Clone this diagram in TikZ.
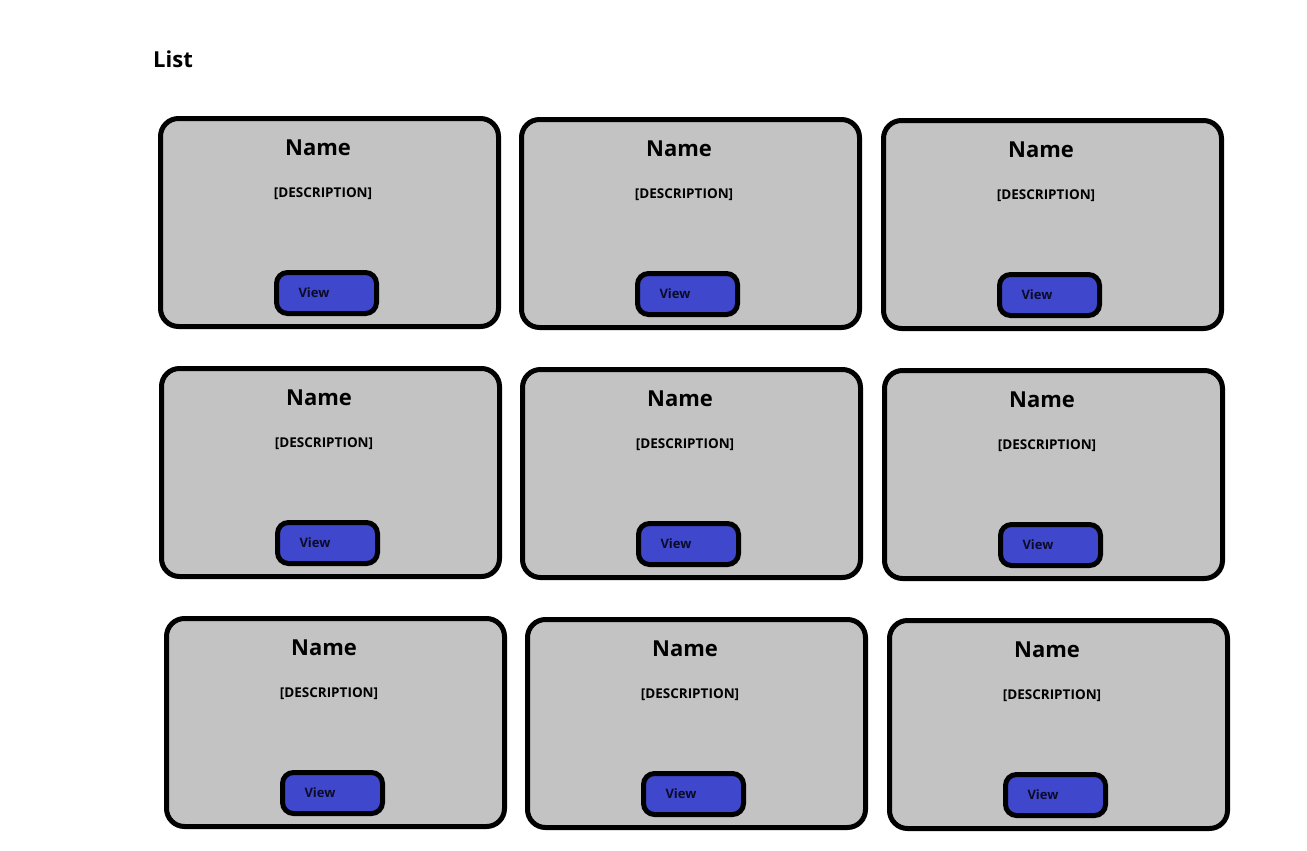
\documentclass[tikz,border=0pt]{standalone}
\usepackage{fontspec}
\setmainfont{Open Sans}
\definecolor{cardgray}{RGB}{195,195,195}
\definecolor{btnblue}{RGB}{63,72,204}
\definecolor{viewtext}{RGB}{12,12,40}
\begin{document}
\begin{tikzpicture}[x=1pt,y=-1pt,
  card/.style={draw=black,fill=cardgray,line width=5pt,rounded corners=18pt,
    minimum width=338pt,minimum height=208pt,inner sep=0pt,anchor=north west},
  btn/.style={draw=black,fill=btnblue,line width=5pt,rounded corners=11pt,
    minimum width=100pt,minimum height=41pt,inner sep=0pt,anchor=north west},
  nametext/.style={font=\fontsize{22}{26}\selectfont\bfseries,anchor=base,inner sep=0pt},
  desctext/.style={font=\fontsize{13.5}{16}\selectfont\bfseries,anchor=base,inner sep=0pt},
  viewlabel/.style={font=\fontsize{13}{16}\selectfont\bfseries,text=viewtext,anchor=base,inner sep=0pt},
  titletext/.style={font=\fontsize{22}{26}\selectfont\bfseries,anchor=base west,inner sep=0pt}]
\useasboundingbox[fill=white] (0,0) rectangle (1307,851);
\node[titletext] (title) at (153,68) {List};
\foreach \r/\c/\L/\T in {1/1/158/116, 1/2/519/117, 1/3/881/118,
                         2/1/159/366, 2/2/520/367, 2/3/882/368,
                         3/1/164/616, 3/2/525/617, 3/3/887/618} {
  \node[card] (card-\r-\c) at (\L,\T) {};
  \node[nametext] (name-\r-\c) at (\L+160,\T+39) {Name};
  \node[desctext] (desc-\r-\c) at (\L+165,\T+81) {[DESCRIPTION]};
  \node[btn] (btn-\r-\c) at (\L+116,\T+154) {};
  \node[viewlabel] (view-\r-\c) at (\L+156,\T+181) {View};
}
\end{tikzpicture}
\end{document}
